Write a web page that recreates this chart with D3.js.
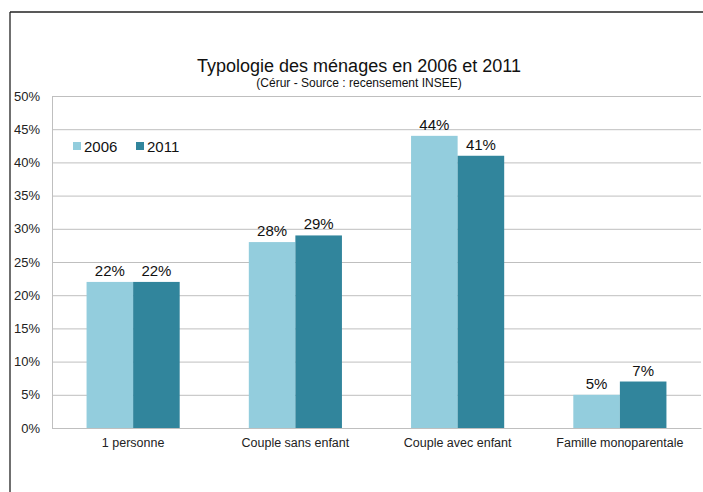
<!DOCTYPE html>
<html>
<head>
<meta charset="utf-8">
<script src="https://cdn.jsdelivr.net/npm/d3@7"></script>
<style>
  body { margin: 0; background: #fff; }
  svg { display: block; font-family: "Liberation Sans", Arial, sans-serif; }
</style>
</head>
<body>
<svg id="chart" width="703" height="492"></svg>
<script>
var categories = ["1 personne", "Couple sans enfant", "Couple avec enfant", "Famille monoparentale"];
var years = ["2006", "2011"];
var values2006 = [22, 28, 44, 5];
var values2011 = [22, 29, 41, 7];
var yTicks = [0, 5, 10, 15, 20, 25, 30, 35, 40, 45, 50];
var colors = ["#93CDDD", "#31859C"];

var svg = d3.select("#chart");

// frame of the chart object (only left and top edges visible)
svg.append("line").attr("x1", 10).attr("y1", 12).attr("x2", 703).attr("y2", 12)
  .attr("stroke", "#222").attr("stroke-width", 1.3);
svg.append("line").attr("x1", 10).attr("y1", 12).attr("x2", 10).attr("y2", 492)
  .attr("stroke", "#222").attr("stroke-width", 1.3);

var plot = { left: 52, right: 701, top: 96, bottom: 428 };

var x = d3.scaleBand().domain(categories)
  .range([plot.left, plot.right])
  .paddingInner(0.426).paddingOuter(0.213);
var xs = d3.scaleBand().domain(years).range([0, x.bandwidth()]);
var y = d3.scaleLinear().domain([0, 50]).range([plot.bottom, plot.top]);

// gridlines
svg.append("g").selectAll("line").data(yTicks).enter().append("line")
  .attr("x1", plot.left).attr("x2", plot.right)
  .attr("y1", function (d) { return y(d) + 0.5; })
  .attr("y2", function (d) { return y(d) + 0.5; })
  .attr("stroke", "#BFBFBF").attr("stroke-width", 1);

// y axis
var yAxis = svg.append("g")
  .attr("transform", "translate(" + plot.left + ",0)")
  .call(d3.axisLeft(y).tickValues(yTicks).tickSize(0).tickPadding(12)
    .tickFormat(function (d) { return d + "%"; }));
yAxis.select(".domain").attr("stroke", "#BFBFBF");
yAxis.selectAll("text").attr("font-size", 13).attr("fill", "#222")
  .style("font-family", "Liberation Sans, Arial, sans-serif");

// bars
var series = [values2006, values2011];
var rows = [];
categories.forEach(function (c, i) {
  years.forEach(function (yr, j) {
    rows.push({ cat: c, year: yr, value: series[j][i], color: colors[j] });
  });
});

svg.append("g").selectAll("rect").data(rows).enter().append("rect")
  .attr("x", function (d) { return x(d.cat) + xs(d.year); })
  .attr("y", function (d) { return y(d.value); })
  .attr("width", xs.bandwidth())
  .attr("height", function (d) { return y(0) - y(d.value); })
  .attr("fill", function (d) { return d.color; });

// value labels
svg.append("g").selectAll("text").data(rows).enter().append("text")
  .attr("x", function (d) { return x(d.cat) + xs(d.year) + xs.bandwidth() / 2; })
  .attr("y", function (d) { return y(d.value) - 6; })
  .attr("text-anchor", "middle")
  .attr("font-size", 15).attr("fill", "#111")
  .text(function (d) { return d.value + "%"; });

// x axis
var xAxis = svg.append("g")
  .attr("transform", "translate(0," + plot.bottom + ")")
  .call(d3.axisBottom(x).tickSize(0).tickPadding(10));
xAxis.select(".domain").attr("stroke", "#BFBFBF");
xAxis.selectAll("text").attr("font-size", 12.5).attr("fill", "#222")
  .style("font-family", "Liberation Sans, Arial, sans-serif");

// title
svg.append("text").attr("x", 359).attr("y", 72).attr("text-anchor", "middle")
  .attr("font-size", 18).attr("fill", "#111")
  .text("Typologie des ménages en 2006 et 2011");
svg.append("text").attr("x", 359).attr("y", 87).attr("text-anchor", "middle")
  .attr("font-size", 12).attr("fill", "#111")
  .text("(Cérur - Source : recensement INSEE)");

// legend
var legend = svg.append("g").selectAll("g").data(years).enter().append("g")
  .attr("transform", function (d, i) { return "translate(" + (73 + i * 63) + ",142)"; });
legend.append("rect").attr("width", 8).attr("height", 8)
  .attr("fill", function (d, i) { return colors[i]; });
legend.append("text").attr("x", 11).attr("y", 10)
  .attr("font-size", 15).attr("fill", "#111")
  .text(function (d) { return d; });
</script>
</body>
</html>
